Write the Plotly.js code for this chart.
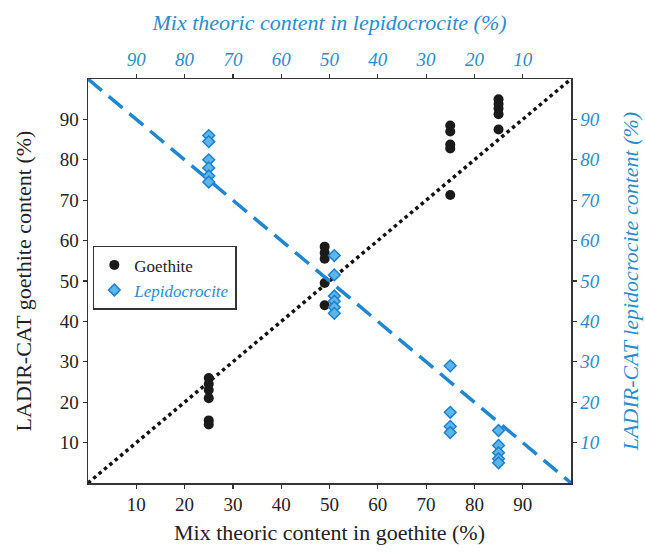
<!DOCTYPE html>
<html>
<head>
<meta charset="utf-8">
<script src="https://cdn.plot.ly/plotly-3.0.1.min.js"></script>
<style>html,body{margin:0;padding:0;background:#fff;}#chart{width:645px;height:552px;}</style>
</head>
<body>
<div id="chart"></div>
<script>
// Goethite: mix theoric goethite content (%) vs LADIR-CAT goethite content (%)
var goethiteX = [25,25,25,25,25,25, 49,49,49,49,49, 75,75,75,75,75, 85,85,85,85,85];
var goethiteY = [26,24.5,23,21,15.5,14.5, 58.5,57,55.5,49.5,44, 88.5,87,83.8,82.8,71.3, 95,93.8,92.7,91.3,87.5];
// Lepidocrocite: plotted vs mix goethite content (bottom axis), LADIR-CAT lepidocrocite content (right axis)
var lepidoX = [25,25,25,25,25,25, 51,51,51,51,51,51, 75,75,75,75, 85,85,85,85,85];
var lepidoY = [86,84.5,80,78,76,74.5, 56.3,51.5,46.3,45,43.5,42, 29,17.5,14,12.5, 13,9.3,7.5,6,5];
// Reference lines
var oneToOneX = [0,100], oneToOneY = [0,100];
var inverseX = [0,100], inverseY = [100,0];
var tickVals = [10,20,30,40,50,60,70,80,90];

var blue = '#2a8ccb';
var lineBlue = '#1f87d0';
var serif = 'Liberation Serif';

var traces = [
  {x: oneToOneX, y: oneToOneY, xaxis:'x', yaxis:'y', mode:'lines', showlegend:false,
   line:{color:'#111', width:3.5, dash:'dot'}, hoverinfo:'skip'},
  {x: inverseX, y: inverseY, xaxis:'x', yaxis:'y2', mode:'lines', showlegend:false,
   line:{color:lineBlue, width:3.5, dash:'18px,9px'}, hoverinfo:'skip'},
  {x: goethiteX, y: goethiteY, xaxis:'x', yaxis:'y', mode:'markers', name:'Goethite',
   marker:{symbol:'circle', size:10, color:'#1a1a1a'}},
  {x: lepidoX, y: lepidoY, xaxis:'x', yaxis:'y2', mode:'markers',
   name:'<span style="color:' + blue + '"><i>Lepidocrocite</i></span>',
   marker:{symbol:'diamond', size:9, color:'#5db6ea', line:{color:'#1c80cf', width:1.5}}},
  {x:[50], y:[50], xaxis:'x2', yaxis:'y', mode:'markers', marker:{opacity:0}, showlegend:false, hoverinfo:'skip'}
];

var axisCommon = {
  showgrid:false, zeroline:false, showline:true, linecolor:'#333', linewidth:1.5,
  ticks:'outside', ticklen:4, tickwidth:1.2, tickcolor:'#333', tickvals: tickVals
};

var layout = {
  width:645, height:552,
  margin:{l:88, r:74, t:79, b:69},
  paper_bgcolor:'#fff', plot_bgcolor:'#fff',
  font:{family:serif, size:19, color:'#222'},
  xaxis: Object.assign({}, axisCommon, {
    range:[0,100], side:'bottom',
    tickfont:{family:serif, size:19, color:'#222'},
    title:{text:'Mix theoric content in goethite (%)', font:{family:serif, size:22, color:'#222'}, standoff:10}
  }),
  xaxis2: Object.assign({}, axisCommon, {
    range:[100,0], side:'top', overlaying:'x', anchor:'y',
    tickfont:{family:serif, size:19, color:blue, style:'italic'},
    title:{text:'<i>Mix theoric content in lepidocrocite (%)</i>', font:{family:serif, size:22, color:blue}, standoff:12}
  }),
  yaxis: Object.assign({}, axisCommon, {
    range:[0,100], side:'left',
    tickfont:{family:serif, size:19, color:'#222'},
    title:{text:'LADIR-CAT goethite content (%)', font:{family:serif, size:22, color:'#222'}, standoff:22}
  }),
  yaxis2: Object.assign({}, axisCommon, {
    range:[0,100], side:'right', overlaying:'y', anchor:'x',
    tickfont:{family:serif, size:19, color:blue, style:'italic'},
    title:{text:'<i>LADIR-CAT lepidocrocite content (%)</i>', font:{family:serif, size:22, color:blue}, standoff:24}
  }),
  legend:{x:0.01, y:0.587, xanchor:'left', yanchor:'top', bgcolor:'#fff',
    bordercolor:'#333', borderwidth:1.5, itemwidth:30,
    font:{family:serif, size:17, color:'#222'}, tracegroupgap:0},
  showlegend:true
};

Plotly.newPlot('chart', traces, layout, {displayModeBar:false, staticPlot:true});
</script>
</body>
</html>
